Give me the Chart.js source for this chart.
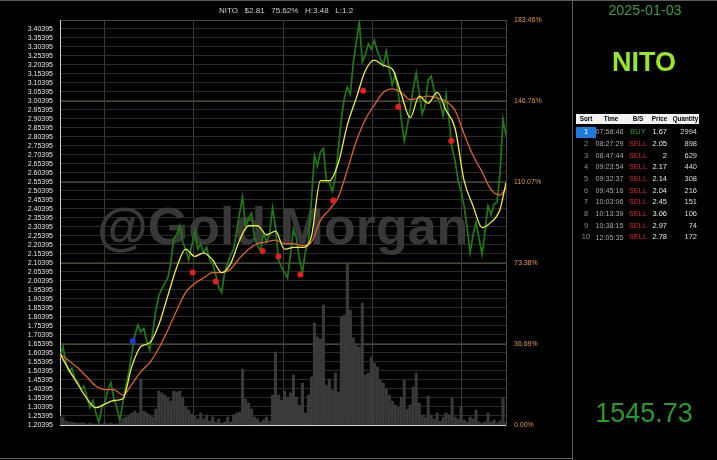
<!DOCTYPE html>
<html>
<head>
<meta charset="utf-8">
<script src="https://cdn.jsdelivr.net/npm/chart.js@4.4.1/dist/chart.umd.min.js"></script>
<style>
  body { margin: 0; background: #000; width: 717px; height: 460px; overflow: hidden; position: relative;
         font-family: "Liberation Sans", Arial, sans-serif; }
  #chart { position: absolute; left: 0; top: 0; }
  .t { position: absolute; white-space: nowrap; line-height: 1; }
  .line { position: absolute; background: #5c5c5c; }
</style>
</head>
<body>
<canvas id="chart" width="572" height="460"></canvas>
<div class="line" style="left:0;top:0;width:717px;height:1px"></div>
<div class="line" style="left:0;top:458px;width:572px;height:1px"></div>
<div class="line" style="left:572px;top:0;width:1px;height:460px"></div>
<div id="panel"></div>
<script>
const ticker = 'NITO';
const tradeDate = '2025-01-03';
const lastPrice = 2.81;
const changePct = 75.62;
const dayHigh = 3.48;
const dayLow = 1.2;
const totalValue = '1545.73';

// price per bar
const priceSeries = [
  1.58, 1.64, 1.55, 1.50, 1.52, 1.46, 1.44, 1.40, 1.42, 1.36,
  1.30, 1.34, 1.27, 1.22, 1.30, 1.33, 1.40, 1.44, 1.35, 1.30,
  1.23, 1.33, 1.42, 1.50, 1.60, 1.70, 1.76, 1.72, 1.74, 1.67,
  1.62, 1.72, 1.84, 1.92, 1.96, 1.99, 2.02, 2.10, 2.24, 2.26,
  2.31, 2.22, 2.18, 2.12, 2.20, 2.28, 2.18, 2.21, 2.16, 2.19,
  2.12, 2.10, 2.04, 1.97, 1.94, 2.05, 2.10, 2.15, 2.18, 2.28,
  2.38, 2.47, 2.30, 2.35, 2.38, 2.24, 2.20, 2.17, 2.27, 2.22,
  2.26, 2.41, 2.30, 2.12, 2.08, 2.05, 2.02, 2.15, 2.29, 2.24,
  2.12, 2.05, 2.17, 2.22, 2.45, 2.70, 2.64, 2.72, 2.74, 2.56,
  2.55, 2.50, 2.58, 2.74, 2.90, 3.02, 3.08, 3.04, 3.22, 3.33,
  3.44, 3.22, 3.26, 3.32, 3.29, 3.34, 3.28, 3.24, 3.20, 3.28,
  3.18, 3.09, 3.15, 3.05, 2.90, 2.78, 2.86, 2.96, 3.07, 3.16,
  3.05, 2.93, 2.98, 3.12, 3.14, 3.06, 3.02, 2.99, 2.92, 3.04,
  2.89, 2.74, 2.67, 2.56, 2.50, 2.42, 2.30, 2.16, 2.26, 2.33,
  2.24, 2.15, 2.28, 2.42, 2.37, 2.43, 2.44, 2.60, 2.90, 2.81
];

// moving averages, one value every 3 bars
const fastAvg = [
  1.60, 1.51, 1.43, 1.35, 1.30, 1.32, 1.34, 1.35, 1.53, 1.64,
  1.66, 1.76, 1.92, 2.08, 2.18, 2.14, 2.16, 2.12, 2.05, 2.10,
  2.23, 2.31, 2.31, 2.26, 2.28, 2.18, 2.19, 2.19, 2.25, 2.56,
  2.56, 2.66, 2.87, 3.02, 3.17, 3.23, 3.20, 3.18, 3.04, 2.91,
  3.03, 2.99, 3.05, 2.95, 2.85, 2.56, 2.42, 2.30, 2.33, 2.40,
  2.55
];
const slowAvg = [
  1.60, 1.56, 1.52, 1.47, 1.42, 1.40, 1.40, 1.37, 1.43, 1.50,
  1.55, 1.63, 1.73, 1.84, 1.94, 1.99, 2.02, 2.05, 2.05, 2.07,
  2.13, 2.18, 2.21, 2.22, 2.23, 2.21, 2.21, 2.20, 2.22, 2.34,
  2.40, 2.47, 2.62, 2.78, 2.90, 2.98, 3.05, 3.07, 3.05, 3.01,
  3.02, 3.03, 3.02, 3.00, 2.95, 2.82, 2.70, 2.61, 2.51, 2.48,
  2.52
];

// volume per bar (hundreds)
const volumeSeries = [
  9, 8, 4, 3, 3, 2, 2, 2, 2, 1,
  2, 1, 1, 1, 1, 2, 1, 2, 1, 1,
  2, 6, 8, 10, 12, 14, 12, 46, 14, 12,
  10, 8, 16, 34, 32, 30, 27, 24, 34, 33,
  34, 28, 18, 15, 11, 9, 6, 12, 6, 10,
  4, 8, 3, 6, 2, 3, 8, 3, 10, 12,
  13, 56, 26, 22, 16, 8, 6, 3, 5, 8,
  4, 30, 73, 30, 25, 34, 28, 32, 50, 28,
  20, 42, 12, 30, 48, 102, 88, 86, 120, 40,
  46, 35, 52, 33, 108, 110, 162, 115, 87, 80,
  78, 122, 50, 52, 68, 62, 58, 45, 42, 36,
  30, 24, 20, 18, 28, 45, 16, 20, 38, 52,
  22, 10, 8, 29, 10, 6, 12, 4, 8, 12,
  10, 27, 8, 6, 18, 5, 3, 8, 6, 15,
  3, 2, 3, 12, 3, 5, 2, 4, 27, 3
];

// trades
const tradeBar = [24.3, 44.3, 52, 67.7, 73, 80.3, 91.3, 101.3, 113, 130.7];
const tradeTime = ['07:58:48', '08:27:29', '08:47:44', '09:23:54', '09:32:37',
                   '09:45:16', '10:03:06', '10:13:39', '10:38:15', '12:05:35'];
const tradeSide = ['BUY', 'SELL', 'SELL', 'SELL', 'SELL', 'SELL', 'SELL', 'SELL', 'SELL', 'SELL'];
const tradePrice = [1.67, 2.05, 2, 2.17, 2.14, 2.04, 2.45, 3.06, 2.97, 2.78];
const tradeQty = [2994, 898, 629, 440, 308, 216, 151, 106, 74, 172];

const priceTicks = Array.from({ length: 45 }, (_, k) => 1.20395 + k * 0.05);
const pctTicks = [0, 36.69, 73.38, 110.07, 146.76, 183.46];

const FONT = '"Liberation Sans", Arial, sans-serif';
const lastBar = priceSeries.length - 1;
const avgPoints = arr => arr.map((v, k) => ({ x: Math.min(k * 3, lastBar), y: v }));
const tradePoints = side => tradeBar
  .map((b, i) => ({ x: b, y: tradePrice[i], s: tradeSide[i] }))
  .filter(p => p.s === side);

const overlay = {
  id: 'overlay',
  beforeDatasetsDraw(chart) {
    const c = chart.ctx;
    c.save();
    c.font = 'bold 52px ' + FONT;
    c.fillStyle = '#383838';
    c.textBaseline = 'alphabetic';
    c.fillText('@Gold Morgan', 97, 244);
    c.restore();
  },
  afterDraw(chart) {
    const c = chart.ctx;
    c.save();
    c.font = '8px ' + FONT;
    c.fillStyle = '#cfcfcf';
    c.textAlign = 'center';
    c.textBaseline = 'middle';
    const title = ticker + '   $' + lastPrice.toFixed(2) + '   ' + changePct.toFixed(2) + '%   H:' + dayHigh + '   L:' + dayLow;
    c.fillText(title, 286, 11);
    c.restore();
  }
};

new Chart(document.getElementById('chart'), {
  type: 'line',
  data: {
    datasets: [
      { type: 'scatter', data: tradePoints('BUY'), pointRadius: 3, pointBorderWidth: 0,
        pointBackgroundColor: '#1c36e8' },
      { type: 'scatter', data: tradePoints('SELL'), pointRadius: 3, pointBorderWidth: 0,
        pointBackgroundColor: '#e61e1e' },
      { data: avgPoints(fastAvg), borderColor: '#eeee40', borderWidth: 1.3, pointRadius: 0,
        tension: 0.4, cubicInterpolationMode: 'monotone' },
      { data: avgPoints(slowAvg), borderColor: '#df6230', borderWidth: 1.3, pointRadius: 0,
        tension: 0.4, cubicInterpolationMode: 'monotone' },
      { data: priceSeries.map((v, i) => ({ x: i, y: v })), borderColor: '#1f7a15', borderWidth: 1.7,
        pointRadius: 0, tension: 0 },
      { type: 'bar', data: volumeSeries.map((v, i) => ({ x: i, y: v })), yAxisID: 'vol',
        backgroundColor: '#3a3a3a', barThickness: 2.4 }
    ]
  },
  options: {
    responsive: false,
    animation: false,
    devicePixelRatio: 1,
    layout: { padding: { top: 20, bottom: 35, left: 0, right: 0 } },
    plugins: { legend: { display: false }, tooltip: { enabled: false }, title: { display: false } },
    scales: {
      x: {
        type: 'linear', min: 0, max: lastBar, offset: false,
        ticks: { display: false },
        grid: { color: '#3b3b28', drawTicks: false },
        border: { color: '#d8d8d8' },
        afterBuildTicks: s => { s.ticks = [0, 1, 2, 3, 4, 5].map(k => ({ value: lastBar * k / 5 })); },
        afterFit: s => { s.height = 0; }
      },
      y: {
        position: 'left', min: 1.20395, max: 3.4522,
        ticks: { color: '#e6e6e6', font: { size: 7, family: FONT }, padding: 7, autoSkip: false,
                 callback: v => v.toFixed(5) },
        grid: { color: '#2c2c29', drawTicks: false },
        border: { color: '#cfcfcf' },
        afterBuildTicks: s => { s.ticks = priceTicks.map(v => ({ value: v })); },
        afterFit: s => { s.width = 60; }
      },
      pct: {
        position: 'right', min: 0, max: 183.46,
        ticks: { color: '#e39a45', font: { size: 7, family: FONT }, padding: 8, autoSkip: false,
                 callback: v => v.toFixed(2) + '%' },
        grid: { color: '#4a482c', drawTicks: false },
        border: { color: '#4a482c' },
        afterBuildTicks: s => { s.ticks = pctTicks.map(v => ({ value: v })); },
        afterFit: s => { s.width = 66; }
      },
      vol: { display: false, min: 0, max: 405 }
    }
  },
  plugins: [overlay]
});

// right panel
const panel = document.getElementById('panel');
function put(text, opts) {
  const d = document.createElement('div');
  d.className = 't';
  d.textContent = text;
  const fs = opts.size;
  d.style.fontSize = fs + 'px';
  d.style.color = opts.color || '#ccc';
  if (opts.bold) d.style.fontWeight = 'bold';
  const w = opts.w || 200;
  d.style.width = w + 'px';
  d.style.textAlign = opts.align || 'center';
  let left = opts.x - w / 2;
  if (opts.align === 'right') left = opts.x - w;
  if (opts.align === 'left') left = opts.x;
  d.style.left = left + 'px';
  d.style.top = (opts.y - 0.49 * fs) + 'px';
  panel.appendChild(d);
  return d;
}
function box(x, y, w, h, bg) {
  const d = document.createElement('div');
  d.style.cssText = `position:absolute;left:${x}px;top:${y}px;width:${w}px;height:${h}px;background:${bg}`;
  panel.appendChild(d);
}

put(tradeDate, { x: 645, y: 10, size: 14.3, color: '#3c9c3c' });
put(ticker, { x: 644, y: 62.5, size: 27, color: '#98e62a', bold: true });
put(totalValue, { x: 644, y: 413, size: 27, color: '#2a9a2a' });

// table
box(576, 114, 123, 10, '#f2f2f2');
const headers = ['Sort', 'Time', 'B/S', 'Price', 'Quantity'];
const headerX = [586, 611, 638, 659.5, 685.5];
headers.forEach((h, i) => put(h, { x: headerX[i], y: 119, size: 6.3, color: '#000', bold: true, w: 40 }));
box(576, 126.5, 19.5, 11, '#1f78dc');
tradeTime.forEach((t, r) => {
  const yc = 132 + r * 11.67;
  put(String(r + 1), { x: 586, y: yc, size: 7.5, color: r === 0 ? '#fff' : '#8c8c8c', w: 20 });
  put(t, { x: 609.5, y: yc, size: 7.2, color: '#a8a8a8', w: 40 });
  put(tradeSide[r], { x: 638, y: yc, size: 7.5, color: tradeSide[r] === 'BUY' ? '#2f9a2f' : '#d42a2a', w: 30 });
  put(String(tradePrice[r]), { x: 667, y: yc, size: 7.5, color: '#e8e8e8', align: 'right', w: 30 });
  put(String(tradeQty[r]), { x: 697, y: yc, size: 7.5, color: '#dcdcdc', align: 'right', w: 30 });
});
</script>
</body>
</html>
